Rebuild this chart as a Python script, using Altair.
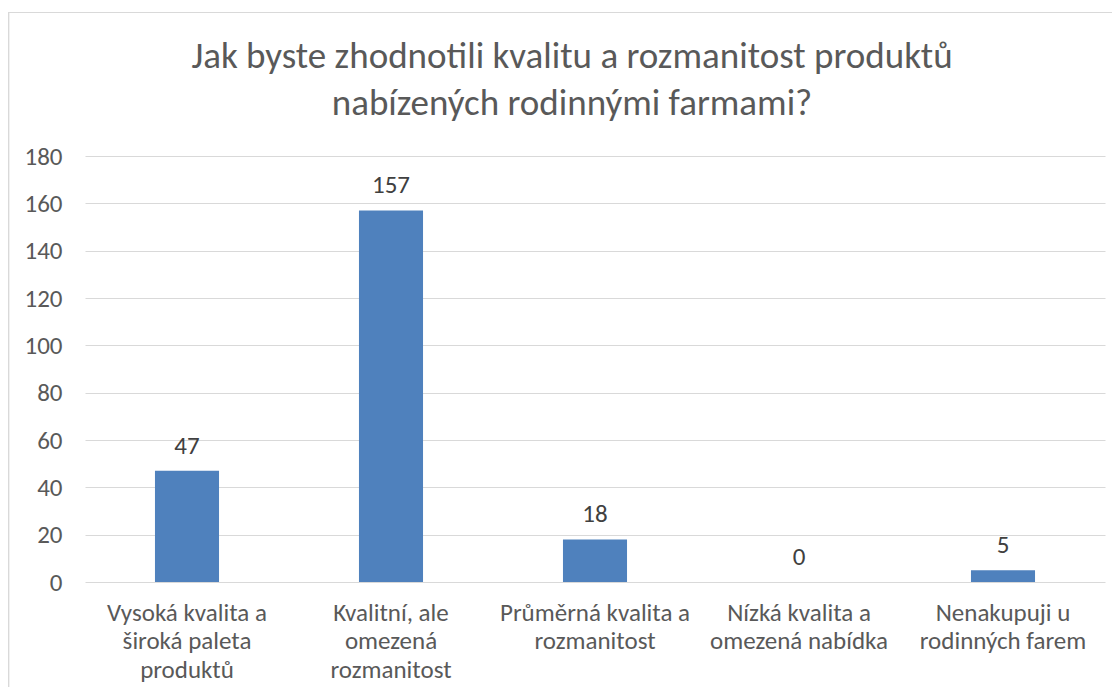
import altair as alt
import pandas as pd

categories = [
    "Vysoká kvalita a|široká paleta|produktů",
    "Kvalitní, ale|omezená|rozmanitost",
    "Průměrná kvalita a|rozmanitost",
    "Nízká kvalita a|omezená nabídka",
    "Nenakupuji u|rodinných farem",
]
values = [47, 157, 18, 0, 5]
y_ticks = [0, 20, 40, 60, 80, 100, 120, 140, 160, 180]
title_lines = ["Jak byste zhodnotili kvalitu a rozmanitost produktů",
               "nabízených rodinnými farmami?"]

df = pd.DataFrame({"cat": categories, "val": values})
FONT = "Carlito, Calibri, Lato"
GRAY = "#595959"

x_enc = alt.X("cat:N", sort=None, title=None,
              scale=alt.Scale(paddingInner=0.686, paddingOuter=0.343),
              axis=alt.Axis(labelExpr="split(datum.label, '|')", labelAngle=0,
                            labelFont=FONT, labelFontSize=25, labelColor=GRAY,
                            labelPadding=18, labelLineHeight=28.5,
                            domain=False, ticks=False, grid=False, labelLimit=300))
y_enc = alt.Y("val:Q", title=None,
              scale=alt.Scale(domain=[0, 180], nice=False),
              axis=alt.Axis(values=y_ticks, labelFont=FONT, labelFontSize=25,
                            labelColor=GRAY, labelPadding=23, domain=False,
                            ticks=False, grid=True, gridColor="#d9d9d9",
                            gridWidth=1.2))

bars = alt.Chart(df).mark_bar(color="#4F81BD").encode(x=x_enc, y=y_enc)
labels = alt.Chart(df).mark_text(font=FONT, fontSize=25, color="#404040",
                                 baseline="alphabetic", dy=-17).encode(
    x=alt.X("cat:N", sort=None), y="val:Q", text="val:Q")
border = alt.Chart(df).mark_rect(fill=None, stroke="#d9d9d9", strokeWidth=1.2).encode(
    x=alt.value(-76.5), x2=alt.value(1060), y=alt.value(-143.5), y2=alt.value(620))

chart = alt.layer(border, bars, labels).properties(
    width=1020, height=426,
    autosize=alt.AutoSizeParams(type="none"),
    padding={"left": 77, "top": 148, "right": 7, "bottom": 105},
    title=alt.TitleParams(text=title_lines, font=FONT, fontSize=37, fontWeight="normal",
                          color=GRAY, anchor="middle", dx=-23, lineHeight=47,
                          offset=0, dy=111),
).configure_view(stroke=None)

chart.save("out.html", embed_options={"renderer": "svg", "actions": False})
